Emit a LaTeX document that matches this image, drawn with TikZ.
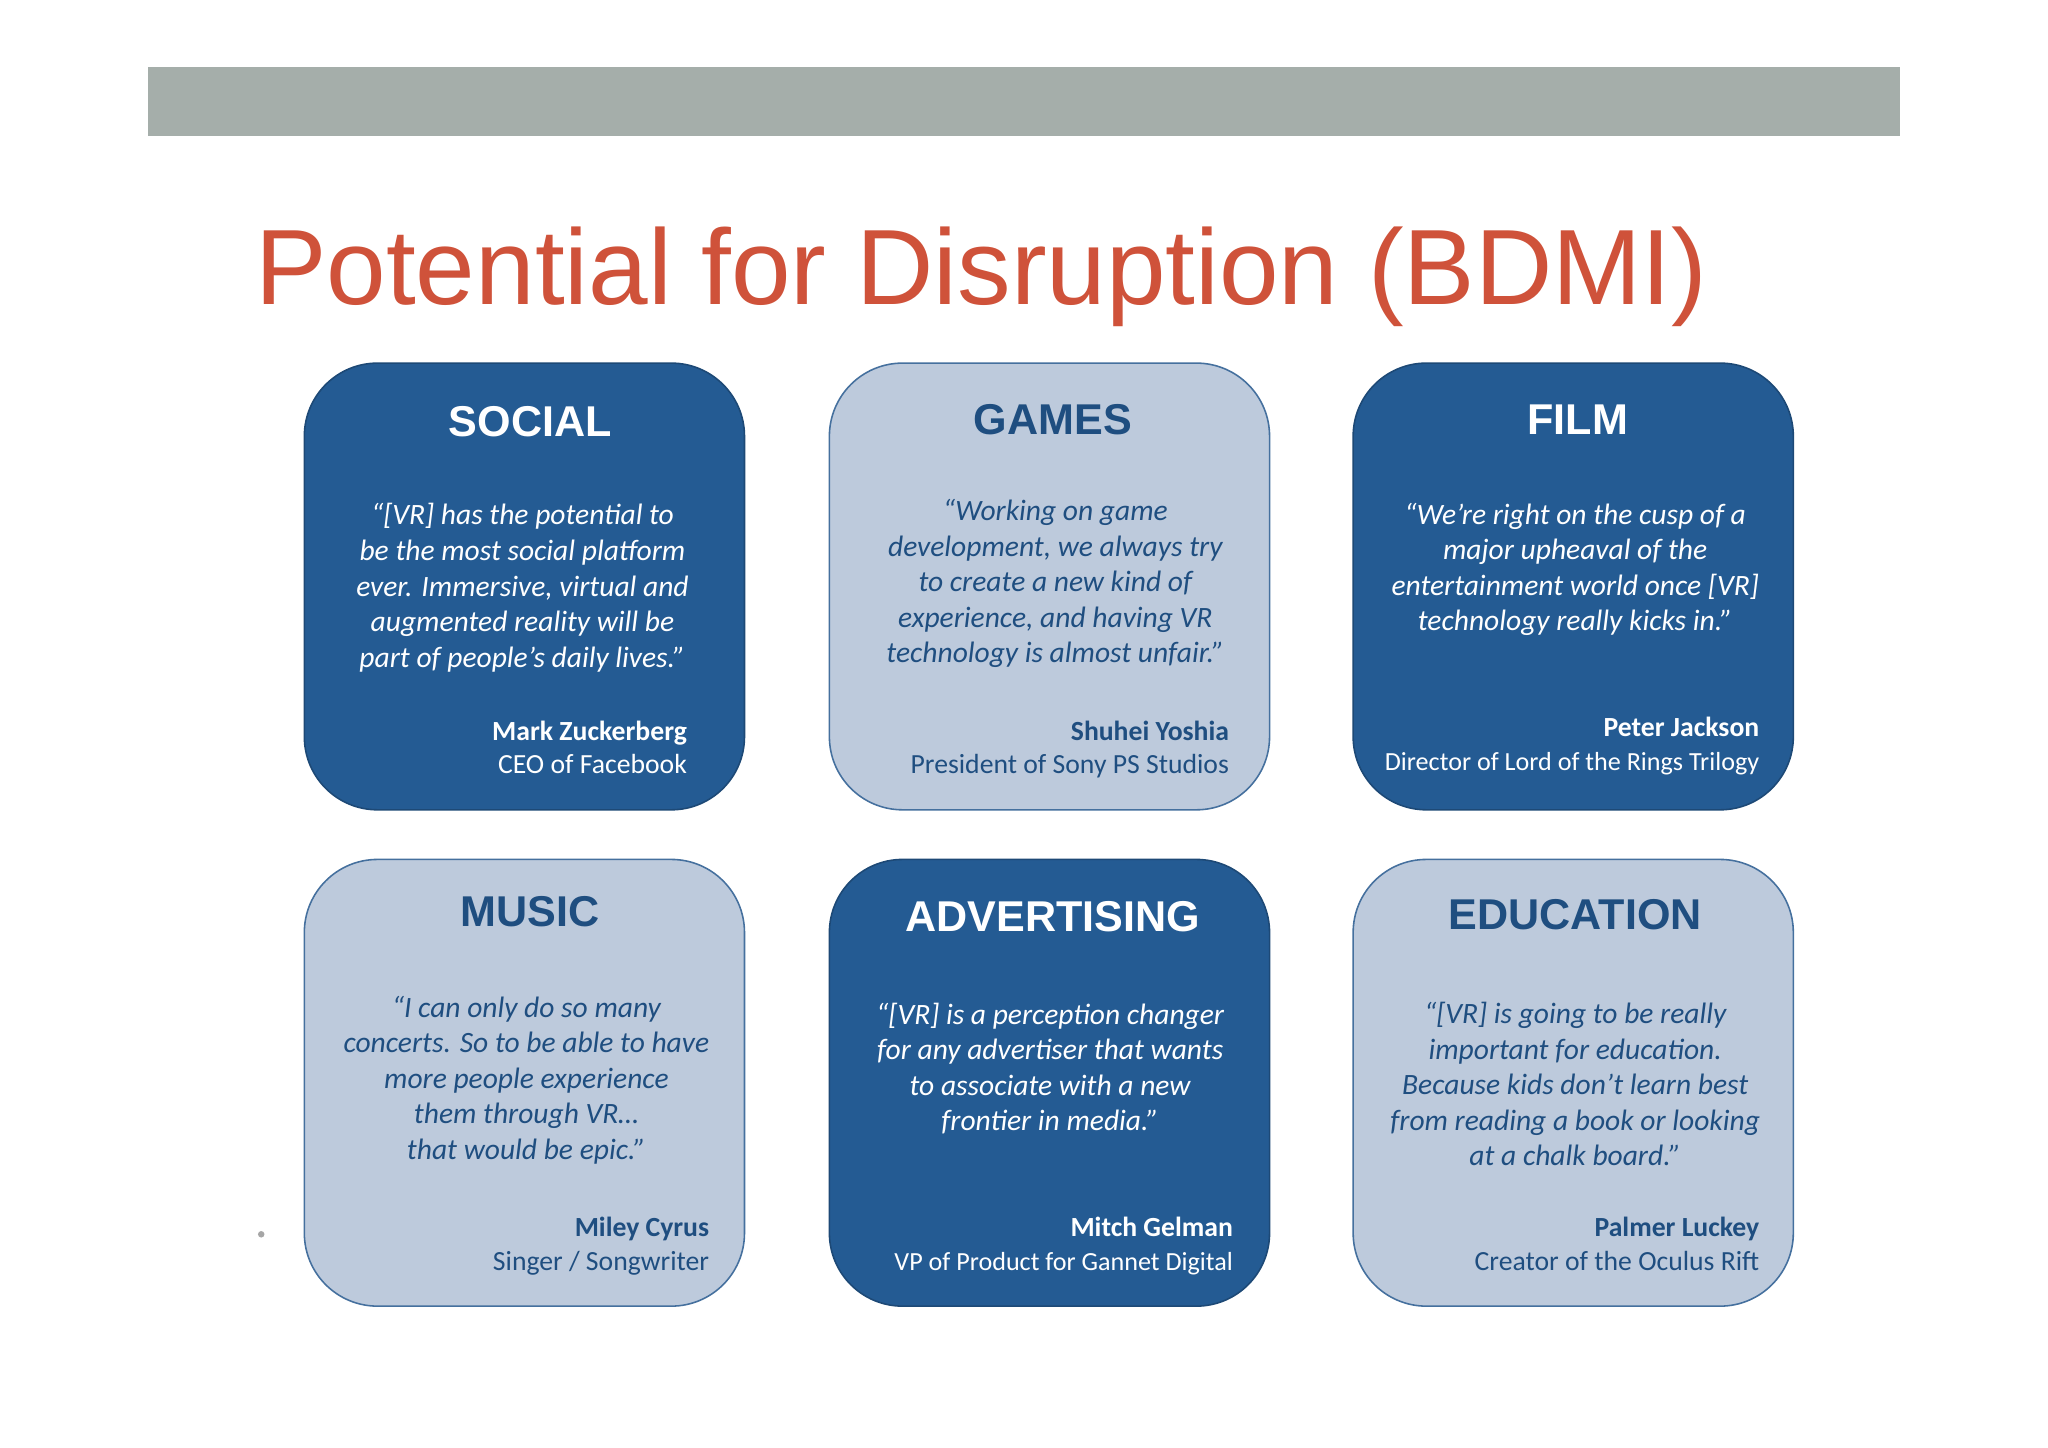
\documentclass[tikz,border=0pt]{standalone}
\usepackage{fontspec}
\setmainfont{Liberation Sans}
\newfontfamily\qfont{Carlito}
\definecolor{barg}{HTML}{A5AEAA}
\definecolor{ttl}{HTML}{CF523A}
\definecolor{dk}{HTML}{245B93}
\definecolor{lt}{HTML}{BDCADC}
\definecolor{ltb}{HTML}{45709E}
\definecolor{ltt}{HTML}{1F4E80}
\tikzset{
 darkbox/.style={draw=dk!80!black,line width=0.6pt,fill=dk,rounded corners=28pt},
 lightbox/.style={draw=ltb,line width=0.6pt,fill=lt,rounded corners=28pt},
 head/.style={font=\fontsize{16.5}{18}\selectfont\bfseries},
 quote/.style={font=\qfont\fontsize{11.3}{13.6}\selectfont\itshape,align=center},
 who/.style={font=\qfont\fontsize{10.6}{12.8}\selectfont,align=right,anchor=north east},
}
\begin{document}
\begin{tikzpicture}[x=0.5pt,y=-0.5pt]
\useasboundingbox[fill=white] (0,0) rectangle (1568,1108);
\fill[barg] (113,51) rectangle (1455,104);
\node[anchor=base west,text=ttl,font=\fontsize{41}{44}\selectfont,inner sep=0] (title) at (195,233) {Potential for Disruption (BDMI)};
\fill[gray!70] (200,945) circle (2.5);
% boxes
\draw[darkbox] (233,278) rectangle (570,620);
\draw[lightbox] (635,278) rectangle (972,620);
\draw[darkbox] (1036,278) rectangle (1373,620);
\draw[lightbox] (233,658) rectangle (570,1000);
\draw[darkbox] (635,658) rectangle (972,1000);
\draw[lightbox] (1036,658) rectangle (1373,1000);
% headings
\node[head,text=white] (h1) at (406,323) {SOCIAL};
\node[head,text=ltt] (h2) at (806,321) {GAMES};
\node[head,text=white] (h3) at (1208,321) {FILM};
\node[head,text=ltt] (h4) at (406,698) {MUSIC};
\node[head,text=white] (h5) at (806,702) {ADVERTISING};
\node[head,text=ltt] (h6) at (1206,700) {EDUCATION};
% quotes
\node[quote,text=white] (q1) at (400,450) {“[VR] has the potential to\\be the most social platform\\ever. Immersive, virtual and\\augmented reality will be\\part of people’s daily lives.”};
\node[quote,text=ltt] (q2) at (808,447) {“Working on game\\development, we always try\\to create a new kind of\\experience, and having VR\\technology is almost unfair.”};
\node[quote,text=white] (q3) at (1206,436) {“We’re right on the cusp of a\\major upheaval of the\\entertainment world once [VR]\\technology really kicks in.”};
\node[quote,text=ltt] (q4) at (403,827) {“I can only do so many\\concerts. So to be able to have\\more people experience\\them through VR…\\that would be epic.”};
\node[quote,text=white] (q5) at (804,818) {“[VR] is a perception changer\\for any advertiser that wants\\to associate with a new\\frontier in media.”};
\node[quote,text=ltt] (q6) at (1206,830) {“[VR] is going to be really\\important for education.\\Because kids don’t learn best\\from reading a book or looking\\at a chalk board.”};
% attributions
\node[who,text=white] (a1) at (533,545) {\textbf{Mark Zuckerberg}\\CEO of Facebook};
\node[who,text=ltt] (a2) at (948,545) {\textbf{Shuhei Yoshia}\\President of Sony PS Studios};
\node[who,text=white,font=\qfont\fontsize{10}{12.8}\selectfont] (a3) at (1354,542) {{\fontsize{10.6}{12.8}\selectfont\textbf{Peter Jackson}}\\Director of Lord of the Rings Trilogy};
\node[who,text=ltt] (a4) at (550,925) {\textbf{Miley Cyrus}\\Singer / Songwriter};
\node[who,text=white,font=\qfont\fontsize{10}{12.8}\selectfont] (a5) at (951,925) {{\fontsize{10.6}{12.8}\selectfont\textbf{Mitch Gelman}}\\VP of Product for Gannet Digital};
\node[who,text=ltt] (a6) at (1354,925) {\textbf{Palmer Luckey}\\Creator of the Oculus Rift};
\end{tikzpicture}
\end{document}
